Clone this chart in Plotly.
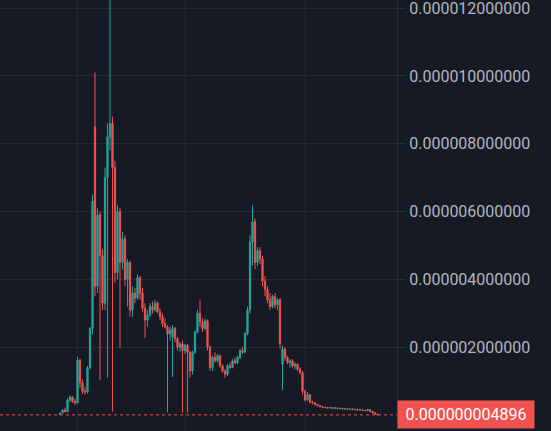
import plotly.graph_objects as go

# prices in millionths (1e-6)
UNIT = 1e-6

opens = [0.02, 0.06, 0.15, 0.10, 0.44, 0.53, 0.40, 0.36, 1.62, 0.95,
         0.70, 0.68, 1.40, 2.55, 8.50, 3.80, 5.90, 4.70, 3.30, 7.00,
         8.20, 8.60, 7.30, 4.20, 6.00, 4.50, 5.20, 4.00, 4.50, 3.10,
         3.60, 3.45, 4.05, 3.60, 3.15, 2.80, 2.95, 3.20, 3.10, 3.30,
         3.05, 2.90, 2.70, 2.60, 2.40, 2.30, 2.55, 2.25, 2.00, 2.10,
         1.90, 2.05, 1.85, 1.30, 1.85, 2.45, 3.00, 2.75, 2.55, 2.78,
         2.00, 1.40, 1.70, 1.60, 1.75, 1.45, 1.30, 1.20, 1.45, 1.40,
         1.60, 1.55, 1.70, 1.90, 1.85, 2.40, 3.10, 5.10, 5.70, 4.50,
         4.85, 4.60, 3.95, 3.70, 3.40, 3.20, 3.50, 3.25, 3.40, 1.50,
         1.95, 1.70, 1.55, 1.60, 1.45, 1.50, 1.35, 1.25, 0.70, 0.45,
         0.60, 0.38, 0.36, 0.31, 0.28, 0.25, 0.23, 0.22, 0.21, 0.22,
         0.20, 0.21, 0.19, 0.20, 0.18, 0.19, 0.17, 0.18, 0.16, 0.17,
         0.15, 0.16, 0.14, 0.13, 0.16, 0.11, 0.07, 0.03]
highs = [0.07, 0.18, 0.22, 0.50, 0.58, 0.55, 0.48, 1.72, 1.66, 1.05,
         0.82, 1.45, 2.60, 6.50, 10.10, 6.10, 6.00, 4.90, 7.30, 8.60,
         12.90, 8.80, 7.50, 6.20, 6.10, 5.40, 5.30, 4.60, 4.55, 3.80,
         3.75, 4.15, 4.10, 3.75, 3.30, 3.10, 3.30, 3.35, 3.40, 3.35,
         3.15, 3.00, 2.85, 2.65, 2.60, 2.65, 2.60, 2.30, 2.15, 2.20,
         2.10, 2.10, 1.90, 1.90, 2.50, 3.10, 3.40, 2.85, 2.85, 2.82,
         2.05, 1.75, 1.85, 1.80, 1.78, 1.50, 1.35, 1.50, 1.55, 1.65,
         1.70, 1.75, 1.95, 2.00, 2.45, 3.20, 5.30, 6.20, 5.80, 4.95,
         4.95, 4.70, 4.10, 3.80, 3.60, 3.55, 3.60, 3.45, 3.45, 2.05,
         2.00, 1.75, 1.65, 1.65, 1.55, 1.52, 1.40, 1.30, 0.75, 0.68,
         0.62, 0.42, 0.38, 0.33, 0.30, 0.27, 0.24, 0.23, 0.24, 0.23,
         0.22, 0.22, 0.21, 0.21, 0.20, 0.20, 0.19, 0.19, 0.18, 0.18,
         0.17, 0.17, 0.15, 0.18, 0.17, 0.12, 0.08, 0.04]
lows = [0.01, 0.05, 0.08, 0.09, 0.38, 0.36, 0.30, 0.34, 0.80, 0.62,
        0.60, 0.64, 1.35, 2.40, 3.50, 3.60, 1.03, 3.10, 3.10, 1.10,
        7.80, 0.10, 3.90, 4.00, 1.98, 4.30, 3.80, 3.20, 2.90, 2.90,
        3.30, 3.40, 3.40, 3.05, 2.27, 2.60, 2.90, 3.00, 3.05, 3.00,
        2.80, 2.60, 2.55, 0.08, 2.20, 1.12, 2.15, 1.90, 1.85, 0.08,
        1.80, 0.08, 1.10, 1.20, 1.80, 2.40, 2.60, 2.45, 2.50, 1.90,
        1.30, 1.30, 1.55, 1.55, 1.40, 1.25, 1.10, 1.15, 1.35, 1.38,
        1.50, 1.50, 1.65, 1.80, 1.82, 2.35, 3.00, 4.40, 4.30, 4.40,
        4.45, 3.80, 3.50, 3.30, 3.10, 3.15, 3.15, 3.10, 1.95, 0.74,
        1.60, 1.50, 1.40, 1.40, 1.35, 1.30, 1.20, 0.60, 0.40, 0.42,
        0.35, 0.32, 0.29, 0.26, 0.23, 0.21, 0.20, 0.19, 0.20, 0.19,
        0.18, 0.18, 0.17, 0.17, 0.16, 0.16, 0.15, 0.15, 0.14, 0.14,
        0.13, 0.13, 0.12, 0.12, 0.10, 0.06, 0.02, 0.004]
closes = [0.06, 0.15, 0.10, 0.44, 0.53, 0.40, 0.36, 1.62, 0.95, 0.70,
          0.68, 1.40, 2.55, 6.30, 3.80, 5.90, 4.70, 3.30, 7.00, 8.20,
          8.60, 7.30, 4.20, 6.00, 4.50, 5.20, 4.00, 4.50, 3.10, 3.60,
          3.45, 4.05, 3.60, 3.15, 2.80, 2.95, 3.20, 3.10, 3.30, 3.05,
          2.90, 2.70, 2.60, 2.40, 2.50, 2.55, 2.25, 2.00, 2.10, 1.90,
          2.05, 1.85, 1.30, 1.85, 2.45, 3.00, 2.75, 2.55, 2.78, 2.00,
          1.40, 1.70, 1.60, 1.75, 1.45, 1.30, 1.20, 1.45, 1.40, 1.60,
          1.55, 1.70, 1.90, 1.85, 2.40, 3.10, 5.10, 5.70, 4.50, 4.85,
          4.60, 3.95, 3.70, 3.40, 3.20, 3.50, 3.25, 3.40, 2.10, 1.95,
          1.70, 1.55, 1.60, 1.45, 1.50, 1.35, 1.25, 0.70, 0.45, 0.60,
          0.38, 0.36, 0.31, 0.28, 0.25, 0.23, 0.22, 0.21, 0.22, 0.20,
          0.21, 0.19, 0.20, 0.18, 0.19, 0.17, 0.18, 0.16, 0.17, 0.15,
          0.16, 0.14, 0.13, 0.16, 0.11, 0.07, 0.03, 0.004896]

last_price = 0.000000004896
price_label = "0.000000004896"

BG = "#161a25"
GRID = "#242834"
UP = "#26a69a"
DOWN = "#ef5350"

x = list(range(len(opens)))

fig = go.Figure()
fig.add_trace(go.Candlestick(
    x=x,
    open=[v * UNIT for v in opens],
    high=[v * UNIT for v in highs],
    low=[v * UNIT for v in lows],
    close=[v * UNIT for v in closes],
    increasing=dict(line=dict(color=UP, width=1), fillcolor=UP),
    decreasing=dict(line=dict(color=DOWN, width=1), fillcolor=DOWN),
    whiskerwidth=0,
    showlegend=False,
))

# last price dotted line
fig.add_shape(type="line", xref="paper", x0=0, x1=1, yref="y",
              y0=last_price, y1=last_price,
              line=dict(color=DOWN, width=1, dash="dot"))

fig.add_annotation(
    xref="paper", x=1, yref="y", y=last_price,
    xanchor="left", yanchor="middle",
    text=price_label, showarrow=False,
    font=dict(family="Roboto", size=16, color="#ffffff"),
    bgcolor="#f0524f", width=134, height=25, borderpad=1,
)

fig.update_layout(
    width=551, height=431,
    margin=dict(l=0, r=154, t=0, b=0),
    paper_bgcolor=BG, plot_bgcolor=BG,
    font=dict(family="Roboto", size=16, color="#b2b5be"),
    xaxis=dict(
        range=[-24, 134.8],
        rangeslider=dict(visible=False),
        tickvals=[6.8, 50, 98],
        showticklabels=False,
        showgrid=True, gridcolor=GRID, gridwidth=1,
        zeroline=False, showline=False, ticks="",
    ),
    yaxis=dict(
        side="right",
        range=[-0.47e-6, 12.24e-6],
        tickvals=[0.000002, 0.000004, 0.000006, 0.000008, 0.00001, 0.000012],
        tickformat=".12f",
        ticklabeloverflow="allow",
        showgrid=True, gridcolor=GRID, gridwidth=1,
        zeroline=False,
        showline=True, linecolor="#2a2e39", linewidth=1,
        ticks="outside", ticklen=8, tickcolor="#2a2e39",
        tickfont=dict(family="Roboto", size=16, color="#b2b5be"),
    ),
)

# page has a default 8px body margin; drop it so the chart sits at the corner
fig.write_html("out.html", config={"displayModeBar": False},
               post_script="document.body.style.margin='0';")
